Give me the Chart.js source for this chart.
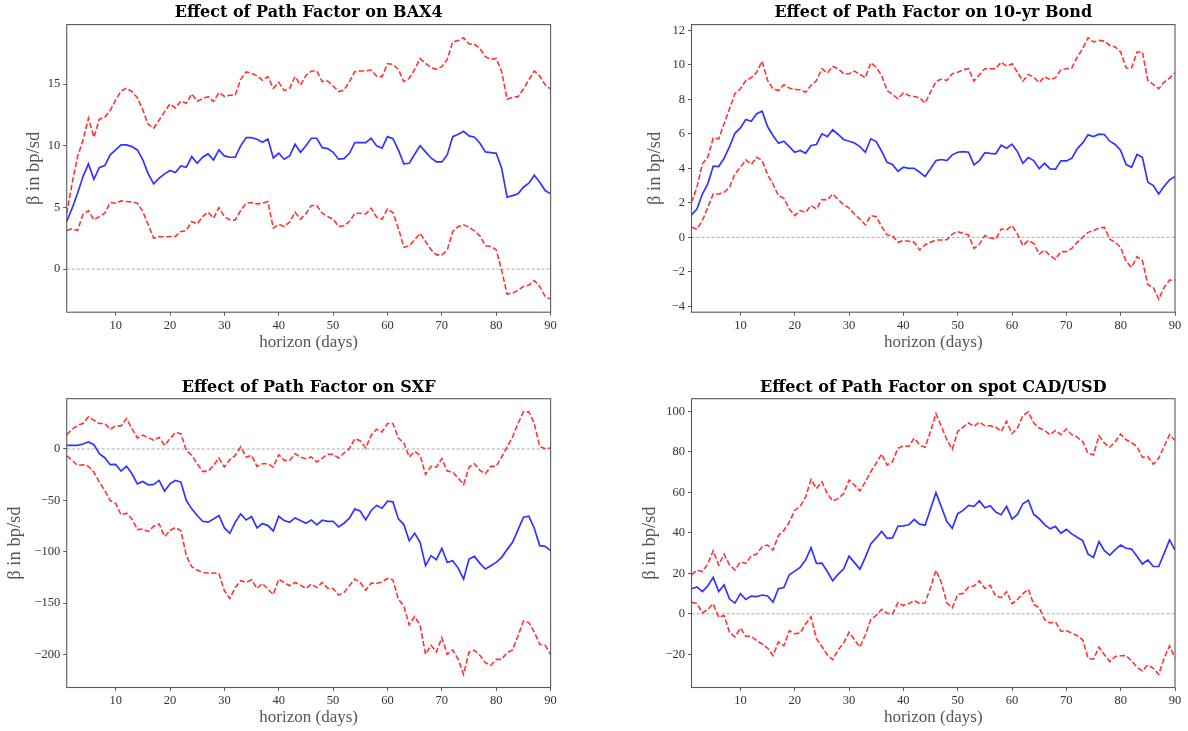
<!DOCTYPE html>
<html>
<head>
<meta charset="utf-8">
<title>Effect of Path Factor</title>
<script src="https://cdn.jsdelivr.net/npm/chart.js@4.4.1/dist/chart.umd.min.js"></script>
<style>
  html, body { margin: 0; padding: 0; background: #fff; }
  #fig { position: relative; width: 1188px; height: 731px; overflow: hidden; background: #fff; }
  #fig canvas { position: absolute; }
</style>
</head>
<body>
<div id="fig">
  <canvas id="bax4" width="600" height="370" style="left:0px;top:0px"></canvas>
  <canvas id="bond" width="588" height="370" style="left:600px;top:0px"></canvas>
  <canvas id="sxf" width="600" height="361" style="left:0px;top:370px"></canvas>
  <canvas id="cad" width="588" height="361" style="left:600px;top:370px"></canvas>
</div>
<script>
// Horizon in days (x axis) and tick positions
const horizon = Array.from({ length: 90 }, (_, i) => i + 1);
const horizonTicks = [10, 20, 30, 40, 50, 60, 70, 80, 90];

// BAX4: point estimate and confidence band (bp per sd)
const bax4Coef = [3.86, 4.94, 6.15, 7.50, 8.53, 7.29, 8.23, 8.39, 9.26, 9.66, 10.07, 10.07, 9.93, 9.66, 8.85, 7.72, 6.91, 7.37, 7.72, 7.99, 7.83, 8.37, 8.26, 9.12, 8.58, 9.07, 9.34, 8.85, 9.66, 9.18, 9.07, 9.07, 9.99, 10.66, 10.66, 10.53, 10.28, 10.55, 9.01, 9.39, 8.91, 9.18, 10.12, 9.47, 10.0, 10.61, 10.61, 9.85, 9.77, 9.47, 8.91, 8.96, 9.39, 10.26, 10.26, 10.26, 10.61, 9.99, 9.80, 10.74, 10.58, 9.66, 8.53, 8.58, 9.31, 10.01, 9.50, 9.01, 8.69, 8.69, 9.28, 10.74, 10.93, 11.17, 10.80, 10.69, 10.20, 9.50, 9.45, 9.39, 8.18, 5.83, 5.96, 6.10, 6.64, 6.96, 7.61, 7.04, 6.37, 6.10];
const bax4Upper = [4.5, 6.96, 9.12, 10.47, 12.23, 10.69, 12.15, 12.31, 12.85, 13.71, 14.44, 14.66, 14.39, 13.90, 12.90, 11.74, 11.42, 12.09, 12.77, 13.39, 13.06, 13.63, 13.44, 14.20, 13.60, 13.82, 13.98, 13.58, 14.31, 14.01, 14.09, 14.12, 15.38, 15.98, 15.87, 15.68, 15.30, 15.60, 14.66, 15.14, 14.47, 14.66, 15.60, 14.92, 15.70, 16.06, 16.06, 15.20, 15.25, 14.84, 14.39, 14.52, 15.20, 16.01, 16.06, 16.06, 16.14, 15.65, 15.60, 16.65, 16.60, 16.19, 15.20, 15.47, 16.19, 17.06, 16.68, 16.33, 16.19, 16.41, 17.00, 18.43, 18.52, 18.76, 18.25, 18.22, 17.89, 17.22, 17.00, 17.08, 16.01, 13.77, 13.93, 13.98, 14.60, 15.33, 16.06, 15.65, 14.93, 14.60];
const bax4Lower = [3.13, 3.27, 3.13, 4.45, 4.75, 3.99, 4.26, 4.53, 5.40, 5.34, 5.53, 5.48, 5.45, 5.34, 4.67, 3.59, 2.51, 2.65, 2.62, 2.65, 2.65, 3.05, 3.13, 3.86, 3.67, 4.26, 4.62, 4.13, 4.99, 4.26, 3.99, 3.99, 4.75, 5.34, 5.40, 5.29, 5.34, 5.48, 3.32, 3.64, 3.45, 3.81, 4.62, 4.05, 4.50, 5.16, 5.16, 4.53, 4.26, 4.05, 3.45, 3.51, 3.86, 4.53, 4.53, 4.48, 4.94, 4.21, 4.05, 4.86, 4.59, 3.32, 1.78, 1.89, 2.38, 2.91, 2.24, 1.57, 1.16, 1.16, 1.57, 3.05, 3.45, 3.59, 3.40, 3.10, 2.70, 1.89, 1.84, 1.57, -0.11, -2.02, -1.94, -1.73, -1.40, -1.30, -0.92, -1.40, -2.21, -2.43];
const bax4Ticks = [0, 5, 10, 15];

// 10-yr bond
const bondCoef = [1.30, 1.64, 2.51, 3.09, 4.12, 4.10, 4.58, 5.26, 6.03, 6.34, 6.83, 6.73, 7.16, 7.31, 6.42, 5.90, 5.45, 5.57, 5.26, 4.93, 5.03, 4.87, 5.32, 5.38, 6.00, 5.84, 6.23, 5.96, 5.67, 5.57, 5.47, 5.26, 4.93, 5.71, 5.55, 4.99, 4.35, 4.22, 3.83, 4.06, 4.00, 4.00, 3.77, 3.52, 3.97, 4.45, 4.51, 4.45, 4.78, 4.93, 4.97, 4.93, 4.20, 4.45, 4.91, 4.87, 4.84, 5.34, 5.16, 5.40, 4.97, 4.29, 4.62, 4.45, 3.98, 4.29, 3.97, 3.95, 4.43, 4.43, 4.58, 5.13, 5.47, 5.94, 5.84, 5.98, 5.96, 5.57, 5.38, 5.03, 4.22, 4.06, 4.80, 4.64, 3.19, 3.00, 2.51, 2.96, 3.33, 3.52];
const bondUpper = [2.03, 2.90, 4.26, 4.64, 5.76, 5.71, 6.58, 7.45, 8.32, 8.61, 9.09, 9.25, 9.57, 10.21, 9.09, 8.61, 8.51, 8.84, 8.65, 8.57, 8.55, 8.41, 8.80, 9.09, 9.77, 9.52, 9.90, 9.77, 9.48, 9.48, 9.63, 9.44, 9.25, 10.12, 9.86, 9.38, 8.51, 8.28, 8.03, 8.36, 8.22, 8.16, 8.09, 7.78, 8.41, 9.03, 9.17, 9.09, 9.48, 9.57, 9.71, 9.77, 9.05, 9.42, 9.77, 9.77, 9.77, 10.15, 9.92, 10.06, 9.57, 9.05, 9.44, 9.28, 8.97, 9.32, 9.13, 9.25, 9.71, 9.77, 9.81, 10.44, 10.93, 11.57, 11.32, 11.41, 11.37, 11.12, 11.03, 10.74, 9.81, 9.81, 10.74, 10.74, 9.09, 8.86, 8.61, 8.99, 9.23, 9.54];
const bondLower = [0.58, 0.48, 0.97, 1.74, 2.51, 2.51, 2.61, 2.90, 3.68, 4.06, 4.49, 4.22, 4.64, 4.45, 3.64, 3.09, 2.42, 2.26, 1.64, 1.26, 1.55, 1.45, 1.84, 1.64, 2.19, 2.17, 2.51, 2.19, 1.90, 1.70, 1.35, 1.06, 0.72, 1.26, 1.20, 0.62, 0.14, 0.10, -0.29, -0.19, -0.23, -0.29, -0.74, -0.43, -0.29, -0.15, -0.15, -0.14, 0.19, 0.33, 0.23, 0.14, -0.64, -0.39, 0.10, -0.04, -0.10, 0.48, 0.43, 0.68, 0.19, -0.48, -0.19, -0.35, -0.97, -0.74, -1.06, -1.28, -0.83, -0.83, -0.64, -0.29, 0.00, 0.29, 0.39, 0.54, 0.58, -0.10, -0.29, -0.58, -1.39, -1.74, -1.12, -1.35, -2.75, -2.90, -3.58, -2.90, -2.48, -2.48];
const bondTicks = [-4, -2, 0, 2, 4, 6, 8, 10, 12];

// SXF
const sxfCoef = [3.6, 3.6, 3.6, 4.9, 6.8, 4.2, -4.6, -8.5, -15.3, -15.0, -21.5, -16.9, -24.1, -33.9, -31.6, -34.9, -34.5, -30.6, -41.0, -33.9, -30.6, -32.2, -50.2, -58.3, -64.8, -70.4, -71.3, -68.1, -64.8, -76.9, -82.1, -71.3, -63.2, -69.1, -65.8, -76.9, -72.6, -74.6, -79.8, -65.5, -69.7, -71.3, -67.1, -69.7, -72.3, -69.1, -73.9, -69.4, -70.4, -70.4, -75.9, -72.3, -67.4, -58.3, -60.6, -69.1, -59.9, -55.0, -57.7, -50.8, -51.5, -68.1, -73.6, -89.3, -82.1, -90.9, -113.7, -103.9, -107.8, -96.7, -110.4, -108.8, -116.0, -126.7, -107.2, -104.6, -111.4, -116.9, -113.7, -110.4, -105.5, -98.0, -90.9, -78.8, -66.4, -65.5, -77.2, -94.1, -94.8, -99.0];
const sxfUpper = [14.0, 19.2, 23.1, 24.8, 31.3, 28.0, 24.8, 24.8, 19.2, 22.5, 22.5, 29.6, 19.9, 10.7, 13.4, 11.1, 8.5, 11.4, 3.6, 10.1, 16.0, 15.0, -1.3, -6.2, -14.3, -21.8, -21.8, -16.0, -8.8, -17.6, -10.4, -6.2, 2.0, -7.8, -6.2, -16.9, -14.3, -14.3, -17.6, -5.5, -11.1, -11.1, -4.6, -7.8, -9.4, -7.8, -12.7, -8.8, -5.2, -5.2, -8.8, -3.9, 0.3, 10.1, 7.8, 1.0, 13.4, 19.2, 16.6, 24.8, 24.8, 10.7, 5.9, -7.8, -2.3, -6.2, -24.8, -16.9, -17.6, -9.4, -21.5, -22.5, -28.3, -34.5, -17.6, -14.3, -20.8, -24.1, -16.9, -16.9, -7.8, 2.0, 11.7, 24.8, 36.2, 36.2, 24.8, 2.6, 0.3, 1.0];
const sxfLower = [-6.8, -11.1, -16.0, -15.3, -16.9, -22.5, -32.2, -40.4, -50.2, -52.8, -64.2, -62.5, -68.1, -78.5, -77.9, -80.5, -75.2, -73.0, -85.3, -79.5, -76.5, -79.5, -103.9, -114.7, -117.9, -120.2, -120.8, -120.8, -121.2, -138.1, -145.6, -134.9, -128.3, -130.0, -127.4, -135.8, -130.9, -136.5, -141.7, -126.7, -130.0, -133.2, -130.0, -132.6, -135.8, -131.6, -134.9, -130.0, -135.5, -135.8, -142.3, -139.7, -133.2, -126.7, -130.0, -137.5, -130.6, -130.9, -129.3, -126.1, -127.4, -146.3, -152.8, -171.3, -163.2, -171.7, -200.0, -191.2, -197.7, -183.7, -200.0, -195.8, -204.9, -219.5, -197.7, -196.1, -201.0, -208.1, -210.7, -204.9, -204.9, -198.4, -195.8, -182.1, -167.4, -169.1, -178.2, -190.2, -191.2, -200.0];
const sxfTicks = [-200, -150, -100, -50, 0];

// Spot CAD/USD
const cadCoef = [12.4, 13.3, 11.0, 13.8, 18.0, 11.0, 14.3, 7.3, 5.3, 10.0, 7.1, 8.8, 8.5, 9.3, 8.8, 5.8, 12.4, 13.0, 19.3, 21.1, 22.9, 26.6, 32.7, 24.9, 25.1, 20.9, 16.3, 19.6, 22.1, 28.5, 25.3, 22.1, 27.9, 34.5, 37.5, 40.7, 37.3, 37.5, 43.3, 43.5, 44.0, 46.6, 44.3, 43.8, 51.8, 59.9, 52.8, 45.6, 42.3, 49.5, 51.1, 53.6, 53.1, 55.8, 52.4, 53.4, 50.3, 49.0, 53.1, 46.8, 49.1, 54.4, 56.1, 49.1, 47.0, 44.1, 42.0, 43.2, 39.8, 41.7, 39.5, 37.8, 36.2, 29.5, 27.9, 35.7, 31.2, 29.0, 31.7, 34.0, 32.4, 32.0, 28.4, 24.6, 26.6, 23.4, 23.4, 29.9, 36.5, 31.5];
const cadUpper = [19.3, 21.6, 20.9, 24.6, 31.2, 24.1, 29.5, 24.1, 21.6, 25.7, 24.9, 28.7, 29.5, 33.2, 34.0, 31.5, 38.7, 41.2, 45.3, 51.1, 53.1, 57.8, 66.4, 61.9, 65.2, 59.4, 55.8, 56.9, 59.4, 66.1, 63.6, 60.7, 65.2, 70.2, 74.4, 79.0, 73.5, 75.2, 81.8, 83.0, 82.7, 86.8, 83.3, 82.3, 90.1, 98.9, 92.6, 86.0, 81.3, 90.1, 92.3, 94.3, 92.6, 94.8, 92.9, 92.9, 92.3, 90.1, 95.1, 89.0, 91.8, 97.9, 99.8, 94.3, 91.8, 90.6, 88.5, 90.6, 88.5, 91.3, 88.5, 87.3, 85.1, 79.3, 78.5, 88.0, 84.3, 82.3, 85.1, 88.8, 86.0, 84.6, 82.7, 77.3, 77.7, 73.9, 76.8, 82.7, 88.5, 85.6];
const cadLower = [5.8, 5.1, 0.5, 2.2, 5.0, -1.7, -0.8, -9.1, -11.4, -7.0, -11.1, -11.1, -13.3, -14.9, -16.9, -20.6, -13.9, -15.8, -8.3, -9.8, -9.5, -5.0, -1.5, -12.3, -16.1, -20.2, -22.7, -17.8, -14.4, -9.1, -12.8, -16.4, -10.3, -2.8, -0.7, 2.2, 0.3, 0.0, 5.5, 4.1, 5.0, 6.6, 5.1, 5.5, 12.9, 21.6, 15.4, 5.5, 3.0, 9.6, 10.1, 13.3, 13.8, 16.3, 12.6, 14.1, 8.8, 8.0, 11.0, 5.0, 7.1, 10.0, 12.1, 4.6, 3.0, -2.8, -4.5, -4.0, -8.6, -8.3, -9.5, -10.8, -12.8, -21.9, -22.4, -16.4, -20.2, -23.6, -21.1, -20.7, -20.6, -23.2, -26.4, -28.2, -25.2, -26.9, -29.9, -21.9, -15.8, -21.9];
const cadTicks = [-20, 0, 20, 40, 60, 80, 100];

const SERIF = "'Liberation Serif', 'Times New Roman', serif";
const TITLE_FONT = { family: "'DejaVu Serif', serif", size: 16, weight: 'bold' };
const XLABEL_FONT = { family: SERIF, size: 17 };
const YLABEL_FONT = { family: SERIF, size: 18.5 };
const TICK_FONT = { family: SERIF, size: 12.5 };
const X_AXIS_H = 42;

// Autoscale like the usual 5% data margin
function yLimits(series) {
  const all = series.flat();
  const lo = Math.min(...all), hi = Math.max(...all);
  const pad = (hi - lo) * 0.05;
  return [lo - pad, hi + pad];
}

function tickText(v) {
  return v < 0 ? '\u2212' + Math.abs(v) : String(v);
}

// Box around the plotting area (all four spines)
const framePlugin = {
  id: 'frame',
  afterDatasetsDraw(chart) {
    const { ctx, chartArea: a } = chart;
    ctx.save();
    ctx.strokeStyle = '#5a5a5a';
    ctx.lineWidth = 1.1;
    ctx.strokeRect(a.left, a.top, a.right - a.left, a.bottom - a.top);
    ctx.restore();
  }
};

function makePanel(id, geo, titleText, coef, lower, upper, yTicks) {
  const [yMin, yMax] = yLimits([coef, lower, upper]);
  const pts = vals => vals.map((v, i) => ({ x: horizon[i], y: v }));
  const band = {
    borderColor: 'rgba(255,0,0,0.8)', borderWidth: 1.6, borderDash: [5.5, 2.4],
    pointRadius: 0, fill: false, tension: 0
  };
  const titleLine = TITLE_FONT.size * 1.2;
  const titleTop = geo.titleMid - titleLine / 2;
  const axisGrid = {
    display: true, drawOnChartArea: false, drawTicks: true,
    tickLength: 3.5, color: '#5a5a5a', lineWidth: 1
  };
  new Chart(document.getElementById(id), {
    type: 'line',
    data: {
      datasets: [
        { label: 'coef', data: pts(coef), borderColor: 'rgba(0,0,255,0.8)', borderWidth: 1.7,
          pointRadius: 0, fill: false, tension: 0, order: 1 },
        { label: 'upper', data: pts(upper), ...band, order: 2 },
        { label: 'lower', data: pts(lower), ...band, order: 2 },
        { label: 'zero', data: [{ x: horizon[0], y: 0 }, { x: horizon[horizon.length - 1], y: 0 }],
          borderColor: 'rgba(120,120,120,0.65)', borderWidth: 1, borderDash: [3, 2],
          pointRadius: 0, fill: false, order: 3 }
      ]
    },
    options: {
      responsive: false,
      animation: false,
      devicePixelRatio: 1,
      events: [],
      layout: { padding: { left: 0, top: 0, right: geo.w - geo.right, bottom: geo.h - geo.bottom - X_AXIS_H } },
      plugins: {
        legend: { display: false },
        tooltip: { enabled: false },
        title: {
          display: true, fullSize: false, text: titleText, color: '#000', font: TITLE_FONT,
          padding: { top: titleTop, bottom: geo.top - titleLine - titleTop }
        }
      },
      scales: {
        x: {
          type: 'linear', min: 1, max: 90,
          afterBuildTicks: s => { s.ticks = horizonTicks.map(v => ({ value: v })); },
          afterFit: s => { s.height = X_AXIS_H; },
          grid: axisGrid,
          border: { display: false },
          ticks: { font: TICK_FONT, color: '#333', padding: 2.5, maxRotation: 0, autoSkip: false },
          title: { display: true, text: 'horizon (days)', font: XLABEL_FONT, color: '#555',
                   padding: { top: 0, bottom: X_AXIS_H - 30.5 - XLABEL_FONT.size * 0.6 } }
        },
        y: {
          type: 'linear', min: yMin, max: yMax,
          afterBuildTicks: s => { s.ticks = yTicks.map(v => ({ value: v })); },
          afterFit: s => { s.width = geo.left; },
          grid: axisGrid,
          border: { display: false },
          ticks: { font: TICK_FONT, color: '#333', padding: 3, autoSkip: false, callback: v => tickText(v) },
          title: { display: true, text: '\u03B2 in bp/sd', font: YLABEL_FONT, color: '#555',
                   padding: { top: geo.yLabelX - YLABEL_FONT.size * 0.6, bottom: 0 } }
        }
      }
    },
    plugins: [framePlugin]
  });
}

makePanel('bax4', { w: 600, h: 370, left: 66.7, right: 550.6, top: 24.6, bottom: 312.2, titleMid: 13, yLabelX: 34.5 },
  'Effect of Path Factor on BAX4', bax4Coef, bax4Lower, bax4Upper, bax4Ticks);
makePanel('bond', { w: 588, h: 370, left: 91.5, right: 575, top: 24.6, bottom: 312.2, titleMid: 13, yLabelX: 55 },
  'Effect of Path Factor on 10-yr Bond', bondCoef, bondLower, bondUpper, bondTicks);
makePanel('sxf', { w: 600, h: 361, left: 66.7, right: 550.6, top: 28.7, bottom: 317.5, titleMid: 18, yLabelX: 15.5 },
  'Effect of Path Factor on SXF', sxfCoef, sxfLower, sxfUpper, sxfTicks);
makePanel('cad', { w: 588, h: 361, left: 91.5, right: 575, top: 28.7, bottom: 317.5, titleMid: 18, yLabelX: 50 },
  'Effect of Path Factor on spot CAD/USD', cadCoef, cadLower, cadUpper, cadTicks);
</script>
</body>
</html>
